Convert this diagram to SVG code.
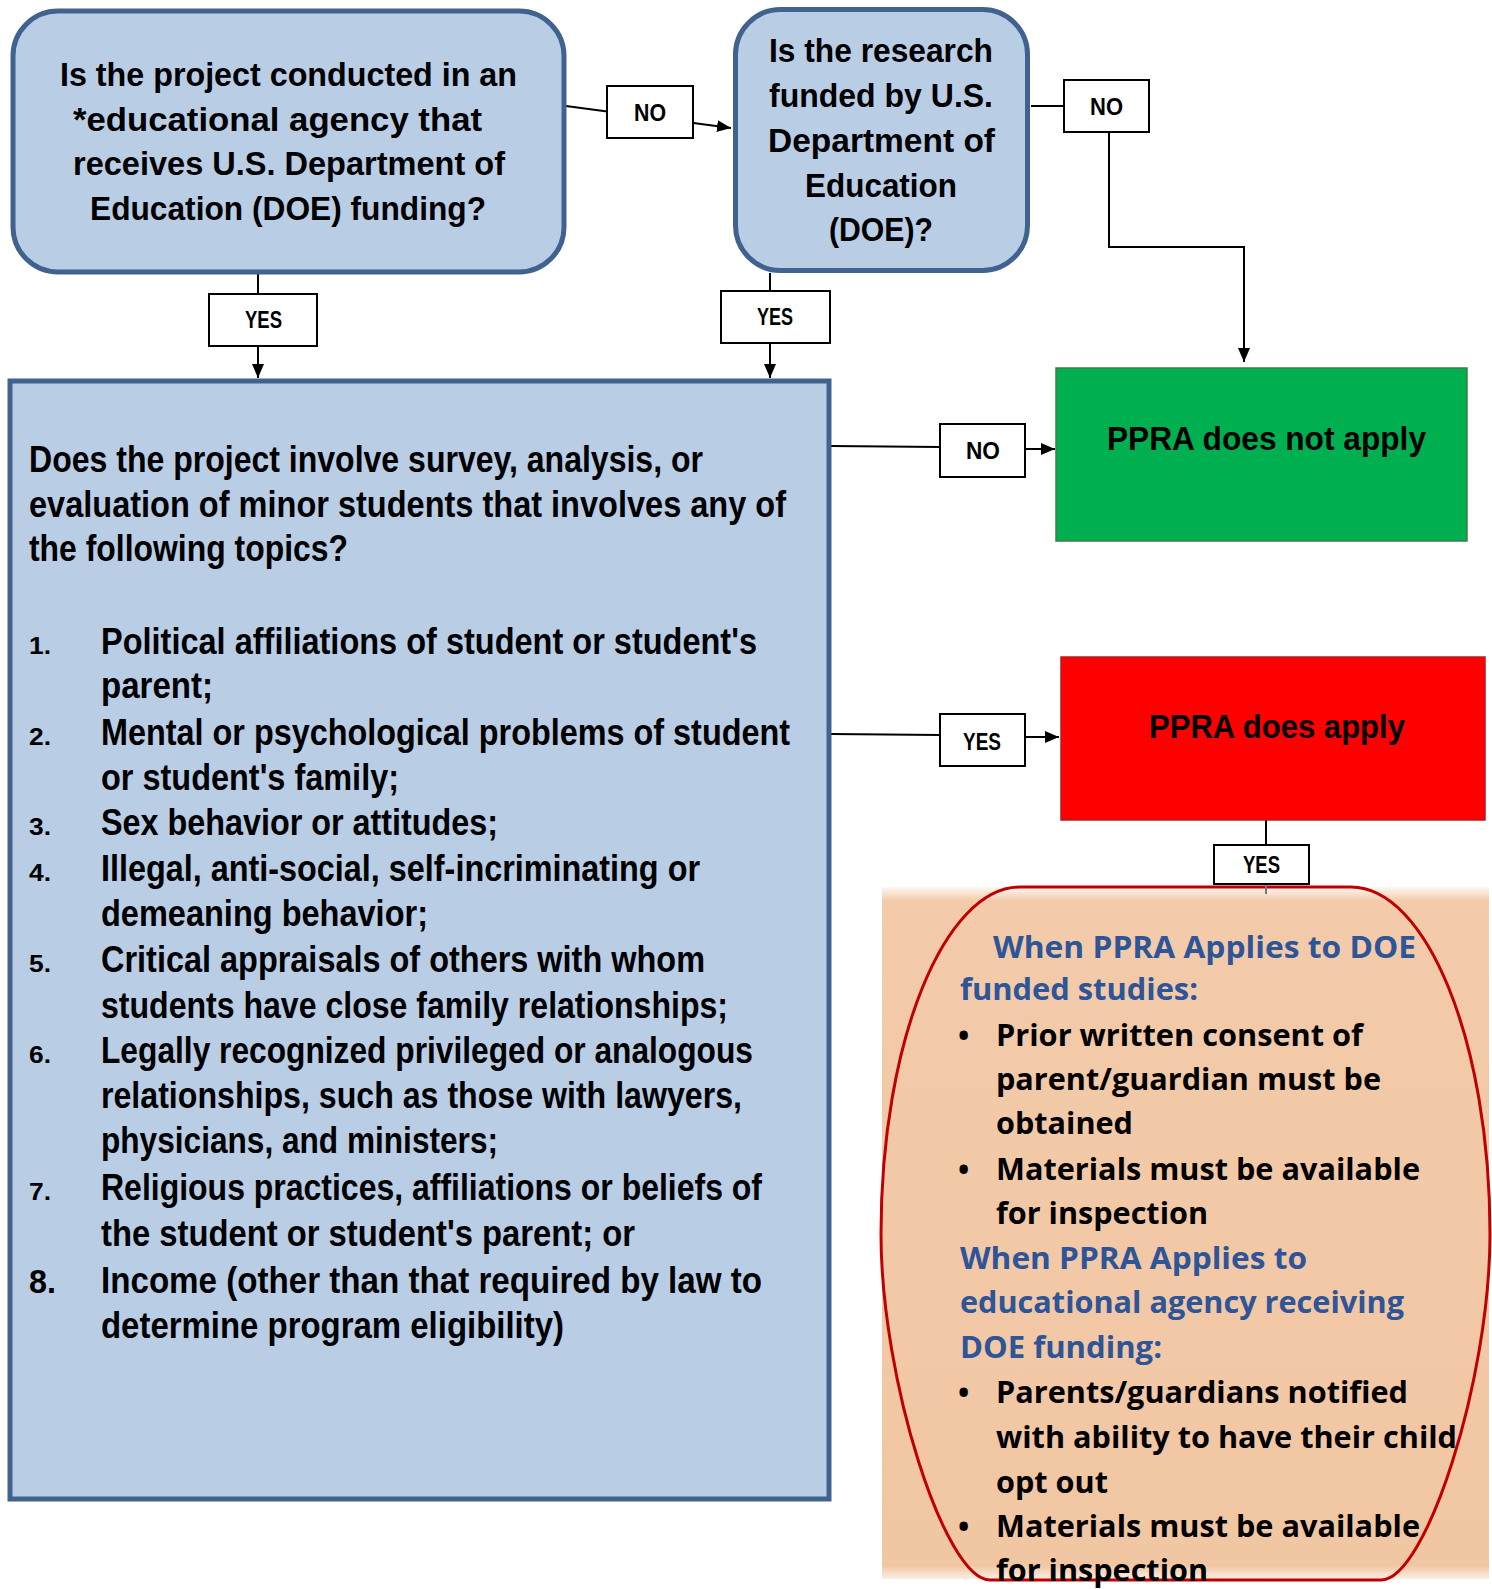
<svg xmlns="http://www.w3.org/2000/svg" width="1492" height="1589" viewBox="0 0 1492 1589">
<style>
.cal{font-family:'Liberation Sans Narrow','Liberation Sans',sans-serif;font-weight:bold;fill:#000}
.seg{font-family:'Open Sans','Noto Sans',sans-serif;font-weight:bold;fill:#000}
.blue{fill:#2D5597}
.q{fill:#B9CDE5;stroke:#41628F;stroke-width:5}
.lbl{fill:#fff;stroke:#000;stroke-width:2}
.ln{fill:none;stroke:#000;stroke-width:2}
.t33{font-size:33px}
.t36{font-size:36px}
.t23{font-size:23px}
.t30{font-size:30px}
</style>
<defs>
<marker id="ah" viewBox="0 0 14 12" refX="14" refY="6" markerWidth="14" markerHeight="12" markerUnits="userSpaceOnUse" orient="auto">
<path d="M0,0 L14,6 L0,12 z" fill="#000"/>
</marker>
<linearGradient id="peach" x1="0" y1="0" x2="0" y2="1">
<stop offset="0" stop-color="#F3CBAA" stop-opacity="0.15"/>
<stop offset="0.02" stop-color="#F3CBAA" stop-opacity="1"/>
<stop offset="0.98" stop-color="#F1C6A3" stop-opacity="1"/>
<stop offset="1" stop-color="#F1C6A3" stop-opacity="0.3"/>
</linearGradient>
</defs>

<g id="connectors">
<line class="ln" x1="566" y1="106" x2="731" y2="128" marker-end="url(#ah)"/>
<line class="ln" x1="258" y1="274" x2="258" y2="378" marker-end="url(#ah)"/>
<line class="ln" x1="770" y1="273" x2="770" y2="378" marker-end="url(#ah)"/>
<path class="ln" d="M1031,106 H1109 V247 H1244 V362" marker-end="url(#ah)"/>
<line class="ln" x1="831" y1="446" x2="940" y2="447"/>
<line class="ln" x1="1025" y1="449" x2="1055" y2="449" marker-end="url(#ah)"/>
<line class="ln" x1="831" y1="734" x2="940" y2="735"/>
<line class="ln" x1="1025" y1="737" x2="1059" y2="737" marker-end="url(#ah)"/>
<line class="ln" x1="1266" y1="819" x2="1266" y2="846"/>
</g>

<g id="q1">
<rect class="q" x="13" y="11" width="551" height="261" rx="45" ry="45"/>
<text class="cal t33" x="60" y="86" textLength="457" lengthAdjust="spacingAndGlyphs">Is the project conducted in an</text>
<text class="cal t33" x="73" y="131" textLength="409" lengthAdjust="spacingAndGlyphs">*educational agency that</text>
<text class="cal t33" x="73" y="175" textLength="432" lengthAdjust="spacingAndGlyphs">receives U.S. Department of</text>
<text class="cal t33" x="90" y="220" textLength="396" lengthAdjust="spacingAndGlyphs">Education (DOE) funding?</text>
</g>

<g id="q2">
<rect class="q" x="735.5" y="9.5" width="292" height="261" rx="45" ry="45"/>
<text class="cal t33" x="769" y="62" textLength="224" lengthAdjust="spacingAndGlyphs">Is the research</text>
<text class="cal t33" x="769" y="107" textLength="224" lengthAdjust="spacingAndGlyphs">funded by U.S.</text>
<text class="cal t33" x="768" y="152" textLength="227" lengthAdjust="spacingAndGlyphs">Department of</text>
<text class="cal t33" x="805" y="197" textLength="152" lengthAdjust="spacingAndGlyphs">Education</text>
<text class="cal t33" x="829" y="241" textLength="104" lengthAdjust="spacingAndGlyphs">(DOE)?</text>
</g>

<g id="q3">
<rect class="q" x="10" y="381" width="819" height="1118" stroke-width="4"/>
<text class="cal t36" x="29" y="472" textLength="674" lengthAdjust="spacingAndGlyphs">Does the project involve survey, analysis, or</text>
<text class="cal t36" x="29" y="517" textLength="757" lengthAdjust="spacingAndGlyphs">evaluation of minor students that involves any of</text>
<text class="cal t36" x="29" y="561" textLength="319" lengthAdjust="spacingAndGlyphs">the following topics?</text>
<text class="cal t23" x="29" y="654" textLength="22" lengthAdjust="spacingAndGlyphs">1.</text>
<text class="cal t36" x="101" y="654" textLength="656" lengthAdjust="spacingAndGlyphs">Political affiliations of student or student's</text>
<text class="cal t36" x="101" y="698" textLength="112" lengthAdjust="spacingAndGlyphs">parent;</text>
<text class="cal t23" x="29" y="745" textLength="22" lengthAdjust="spacingAndGlyphs">2.</text>
<text class="cal t36" x="101" y="745" textLength="689" lengthAdjust="spacingAndGlyphs">Mental or psychological problems of student</text>
<text class="cal t36" x="101" y="790" textLength="298" lengthAdjust="spacingAndGlyphs">or student's family;</text>
<text class="cal t23" x="29" y="835" textLength="22" lengthAdjust="spacingAndGlyphs">3.</text>
<text class="cal t36" x="101" y="835" textLength="397" lengthAdjust="spacingAndGlyphs">Sex behavior or attitudes;</text>
<text class="cal t23" x="29" y="881" textLength="22" lengthAdjust="spacingAndGlyphs">4.</text>
<text class="cal t36" x="101" y="881" textLength="599" lengthAdjust="spacingAndGlyphs">Illegal, anti-social, self-incriminating or</text>
<text class="cal t36" x="101" y="926" textLength="327" lengthAdjust="spacingAndGlyphs">demeaning behavior;</text>
<text class="cal t23" x="29" y="972" textLength="22" lengthAdjust="spacingAndGlyphs">5.</text>
<text class="cal t36" x="101" y="972" textLength="604" lengthAdjust="spacingAndGlyphs">Critical appraisals of others with whom</text>
<text class="cal t36" x="101" y="1018" textLength="627" lengthAdjust="spacingAndGlyphs">students have close family relationships;</text>
<text class="cal t23" x="29" y="1063" textLength="22" lengthAdjust="spacingAndGlyphs">6.</text>
<text class="cal t36" x="101" y="1063" textLength="652" lengthAdjust="spacingAndGlyphs">Legally recognized privileged or analogous</text>
<text class="cal t36" x="101" y="1108" textLength="641" lengthAdjust="spacingAndGlyphs">relationships, such as those with lawyers,</text>
<text class="cal t36" x="101" y="1153" textLength="397" lengthAdjust="spacingAndGlyphs">physicians, and ministers;</text>
<text class="cal t23" x="29" y="1200" textLength="22" lengthAdjust="spacingAndGlyphs">7.</text>
<text class="cal t36" x="101" y="1200" textLength="661" lengthAdjust="spacingAndGlyphs">Religious practices, affiliations or beliefs of</text>
<text class="cal t36" x="101" y="1246" textLength="534" lengthAdjust="spacingAndGlyphs">the student or student's parent; or</text>
<text class="cal" font-size="33" x="29" y="1293" textLength="27" lengthAdjust="spacingAndGlyphs">8.</text>
<text class="cal t36" x="101" y="1293" textLength="661" lengthAdjust="spacingAndGlyphs">Income (other than that required by law to</text>
<text class="cal t36" x="101" y="1338" textLength="463" lengthAdjust="spacingAndGlyphs">determine program eligibility)</text>
</g>

<g id="notApply">
<rect x="1056" y="368" width="411" height="173" fill="#00B050" stroke="#3E7D45" stroke-width="1.5"/>
<text class="cal" font-size="34" x="1107" y="450" textLength="319" lengthAdjust="spacingAndGlyphs">PPRA does not apply</text>
</g>

<g id="apply">
<rect x="1061" y="657" width="424" height="163" fill="#FF0000" stroke="#B02020" stroke-width="1.5"/>
<text class="cal" font-size="34" x="1149" y="738" textLength="256" lengthAdjust="spacingAndGlyphs">PPRA does apply</text>
</g>

<g id="requirements">
<rect x="882" y="887" width="607" height="692" fill="url(#peach)"/>
<path d="M1020,887 H1351 C1426,887 1490,1040 1490,1234 C1490,1380 1426,1580 1381,1580 H990 C945,1580 881,1380 881,1234 C881,1040 945,887 1020,887 Z" fill="none" stroke="#C00000" stroke-width="3"/>
<line x1="1266" y1="884" x2="1266" y2="894" stroke="#777" stroke-width="2"/>
<text class="seg blue t30" x="993" y="958" textLength="423" lengthAdjust="spacingAndGlyphs">When PPRA Applies to DOE</text>
<text class="seg blue t30" x="960" y="1000" textLength="238" lengthAdjust="spacingAndGlyphs">funded studies:</text>
<text class="seg t30" x="958" y="1046">•</text>
<text class="seg t30" x="996" y="1046" textLength="367" lengthAdjust="spacingAndGlyphs">Prior written consent of</text>
<text class="seg t30" x="996" y="1090" textLength="385" lengthAdjust="spacingAndGlyphs">parent/guardian must be</text>
<text class="seg t30" x="996" y="1134" textLength="137" lengthAdjust="spacingAndGlyphs">obtained</text>
<text class="seg t30" x="958" y="1180">•</text>
<text class="seg t30" x="996" y="1180" textLength="424" lengthAdjust="spacingAndGlyphs">Materials must be available</text>
<text class="seg t30" x="996" y="1224" textLength="212" lengthAdjust="spacingAndGlyphs">for inspection</text>
<text class="seg blue t30" x="960" y="1269" textLength="347" lengthAdjust="spacingAndGlyphs">When PPRA Applies to</text>
<text class="seg blue t30" x="960" y="1313" textLength="444" lengthAdjust="spacingAndGlyphs">educational agency receiving</text>
<text class="seg blue t30" x="960" y="1358" textLength="202" lengthAdjust="spacingAndGlyphs">DOE funding:</text>
<text class="seg t30" x="958" y="1403">•</text>
<text class="seg t30" x="996" y="1403" textLength="412" lengthAdjust="spacingAndGlyphs">Parents/guardians notified</text>
<text class="seg t30" x="996" y="1448" textLength="461" lengthAdjust="spacingAndGlyphs">with ability to have their child</text>
<text class="seg t30" x="996" y="1493" textLength="112" lengthAdjust="spacingAndGlyphs">opt out</text>
<text class="seg t30" x="958" y="1537">•</text>
<text class="seg t30" x="996" y="1537" textLength="424" lengthAdjust="spacingAndGlyphs">Materials must be available</text>
<text class="seg t30" x="996" y="1581" textLength="212" lengthAdjust="spacingAndGlyphs">for inspection</text>
</g>

<g id="lblNo1">
<rect class="lbl" x="607" y="86" width="86" height="52"/>
<text class="cal t23" x="634" y="121" textLength="32" lengthAdjust="spacingAndGlyphs">NO</text>
</g>
<g id="lblYes1">
<rect class="lbl" x="209" y="294" width="108" height="52"/>
<text class="cal t23" x="245" y="328" textLength="37" lengthAdjust="spacingAndGlyphs">YES</text>
</g>
<g id="lblYes2">
<rect class="lbl" x="721" y="291" width="109" height="52"/>
<text class="cal t23" x="757" y="325" textLength="36" lengthAdjust="spacingAndGlyphs">YES</text>
</g>
<g id="lblNo2">
<rect class="lbl" x="1064" y="80" width="85" height="52"/>
<text class="cal t23" x="1090" y="115" textLength="33" lengthAdjust="spacingAndGlyphs">NO</text>
</g>
<g id="lblNo3">
<rect class="lbl" x="940" y="424" width="85" height="53"/>
<text class="cal t23" x="966" y="459" textLength="34" lengthAdjust="spacingAndGlyphs">NO</text>
</g>
<g id="lblYes3">
<rect class="lbl" x="940" y="714" width="85" height="52"/>
<text class="cal t23" x="963" y="750" textLength="38" lengthAdjust="spacingAndGlyphs">YES</text>
</g>
<g id="lblYes4">
<rect class="lbl" x="1214" y="845" width="95" height="39"/>
<text class="cal t23" x="1243" y="873" textLength="37" lengthAdjust="spacingAndGlyphs">YES</text>
</g>
</svg>
